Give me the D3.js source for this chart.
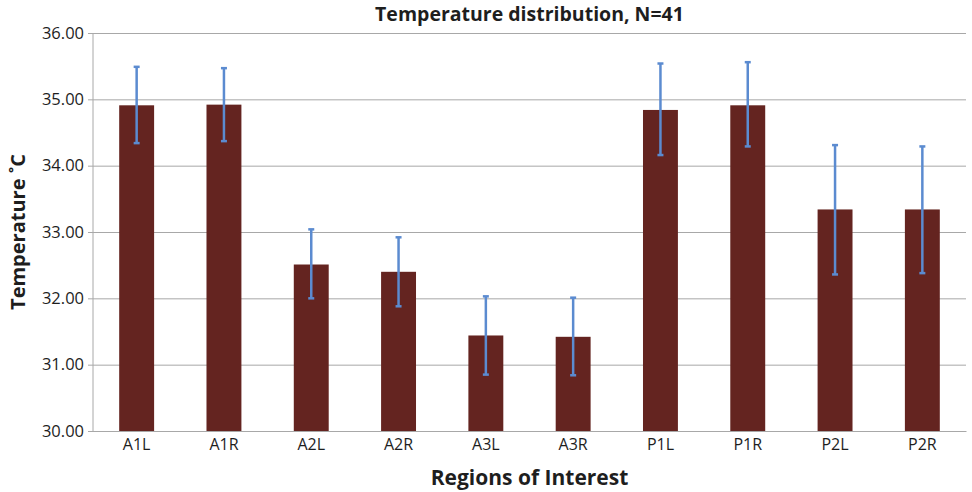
<!DOCTYPE html>
<html>
<head>
<meta charset="utf-8">
<script src="https://cdn.jsdelivr.net/npm/d3@7"></script>
<style>
  body { margin: 0; background: #fff; }
  text { font-family: "Open Sans", "Liberation Sans", sans-serif; fill: #1e1e1e; }
</style>
</head>
<body>
<div id="chart"></div>
<script>
// Data
const regions = ["A1L", "A1R", "A2L", "A2R", "A3L", "A3R", "P1L", "P1R", "P2L", "P2R"];
const meanTemp = [34.91, 34.92, 32.51, 32.40, 31.44, 31.42, 34.84, 34.91, 33.34, 33.34];
const errHigh = [35.49, 35.47, 33.04, 32.92, 32.03, 32.01, 35.54, 35.56, 34.31, 34.29];
const errLow = [34.34, 34.37, 32.00, 31.88, 30.85, 30.84, 34.16, 34.29, 32.36, 32.38];
const yTicks = [30, 31, 32, 33, 34, 35, 36];

const width = 972;
const height = 492;
const margin = { top: 33, right: 6, bottom: 61, left: 93 };

const svg = d3.select("#chart")
    .append("svg")
    .attr("width", width)
    .attr("height", height);

const g = svg.append("g")
    .attr("transform", `translate(${margin.left}, ${margin.top})`);

const w = width - margin.left - margin.right;
const h = height - margin.top - margin.bottom;

const x = d3.scaleBand()
    .domain(regions)
    .range([0, w])
    .paddingInner(0.6)
    .paddingOuter(0.3);

const y = d3.scaleLinear()
    .domain([30, 36])
    .range([h, 0]);

// gridlines + y axis
const yAxis = g.append("g")
    .call(d3.axisLeft(y).tickValues(yTicks).tickFormat(d3.format(".2f")).tickSize(-w).tickPadding(9));
yAxis.select(".domain").remove();
yAxis.selectAll(".tick line")
    .attr("x1", -5)
    .attr("stroke", "#a8a8a8");
yAxis.selectAll(".tick text")
    .style("font-size", "16.5px")
    .style("fill", "#1e1e1e");

// left axis line
g.append("line")
    .attr("x1", 0).attr("x2", 0)
    .attr("y1", 0).attr("y2", h)
    .attr("stroke", "#a8a8a8");

// bars
const data = regions.map((r, i) => ({ r, m: meanTemp[i], hi: errHigh[i], lo: errLow[i] }));

g.selectAll(".bar")
    .data(data)
    .enter()
    .append("rect")
    .attr("class", "bar")
    .attr("x", d => x(d.r))
    .attr("y", d => y(d.m))
    .attr("width", x.bandwidth())
    .attr("height", d => h - y(d.m))
    .attr("fill", "#642420");

// error bars
const err = g.selectAll(".err")
    .data(data)
    .enter()
    .append("g")
    .attr("class", "err")
    .attr("stroke", "#5b8bd0")
    .attr("stroke-width", 2.5);
err.append("line")
    .attr("x1", d => x(d.r) + x.bandwidth() / 2)
    .attr("x2", d => x(d.r) + x.bandwidth() / 2)
    .attr("y1", d => y(d.hi))
    .attr("y2", d => y(d.lo));
err.append("line")
    .attr("x1", d => x(d.r) + x.bandwidth() / 2 - 3)
    .attr("x2", d => x(d.r) + x.bandwidth() / 2 + 3)
    .attr("y1", d => y(d.hi))
    .attr("y2", d => y(d.hi));
err.append("line")
    .attr("x1", d => x(d.r) + x.bandwidth() / 2 - 3)
    .attr("x2", d => x(d.r) + x.bandwidth() / 2 + 3)
    .attr("y1", d => y(d.lo))
    .attr("y2", d => y(d.lo));

// x axis
const xAxis = g.append("g")
    .attr("transform", `translate(0, ${h})`)
    .call(d3.axisBottom(x).tickSize(0).tickPadding(8));
xAxis.select(".domain").attr("stroke", "#a8a8a8");
xAxis.selectAll("text")
    .style("font-size", "16px")
    .style("fill", "#1e1e1e");

// title
svg.append("text")
    .attr("x", margin.left + w / 2)
    .attr("y", 21)
    .attr("text-anchor", "middle")
    .style("font-size", "19.5px")
    .style("font-weight", "bold")
    .text("Temperature distribution, N=41");

// axis titles
svg.append("text")
    .attr("x", margin.left + w / 2)
    .attr("y", 485)
    .attr("text-anchor", "middle")
    .style("font-size", "21px")
    .style("font-weight", "bold")
    .text("Regions of Interest");

svg.append("text")
    .attr("transform", `translate(25, ${margin.top + h / 2}) rotate(-90)`)
    .attr("text-anchor", "middle")
    .style("font-size", "20px")
    .style("font-weight", "bold")
    .text("Temperature ˚C");
</script>
</body>
</html>
